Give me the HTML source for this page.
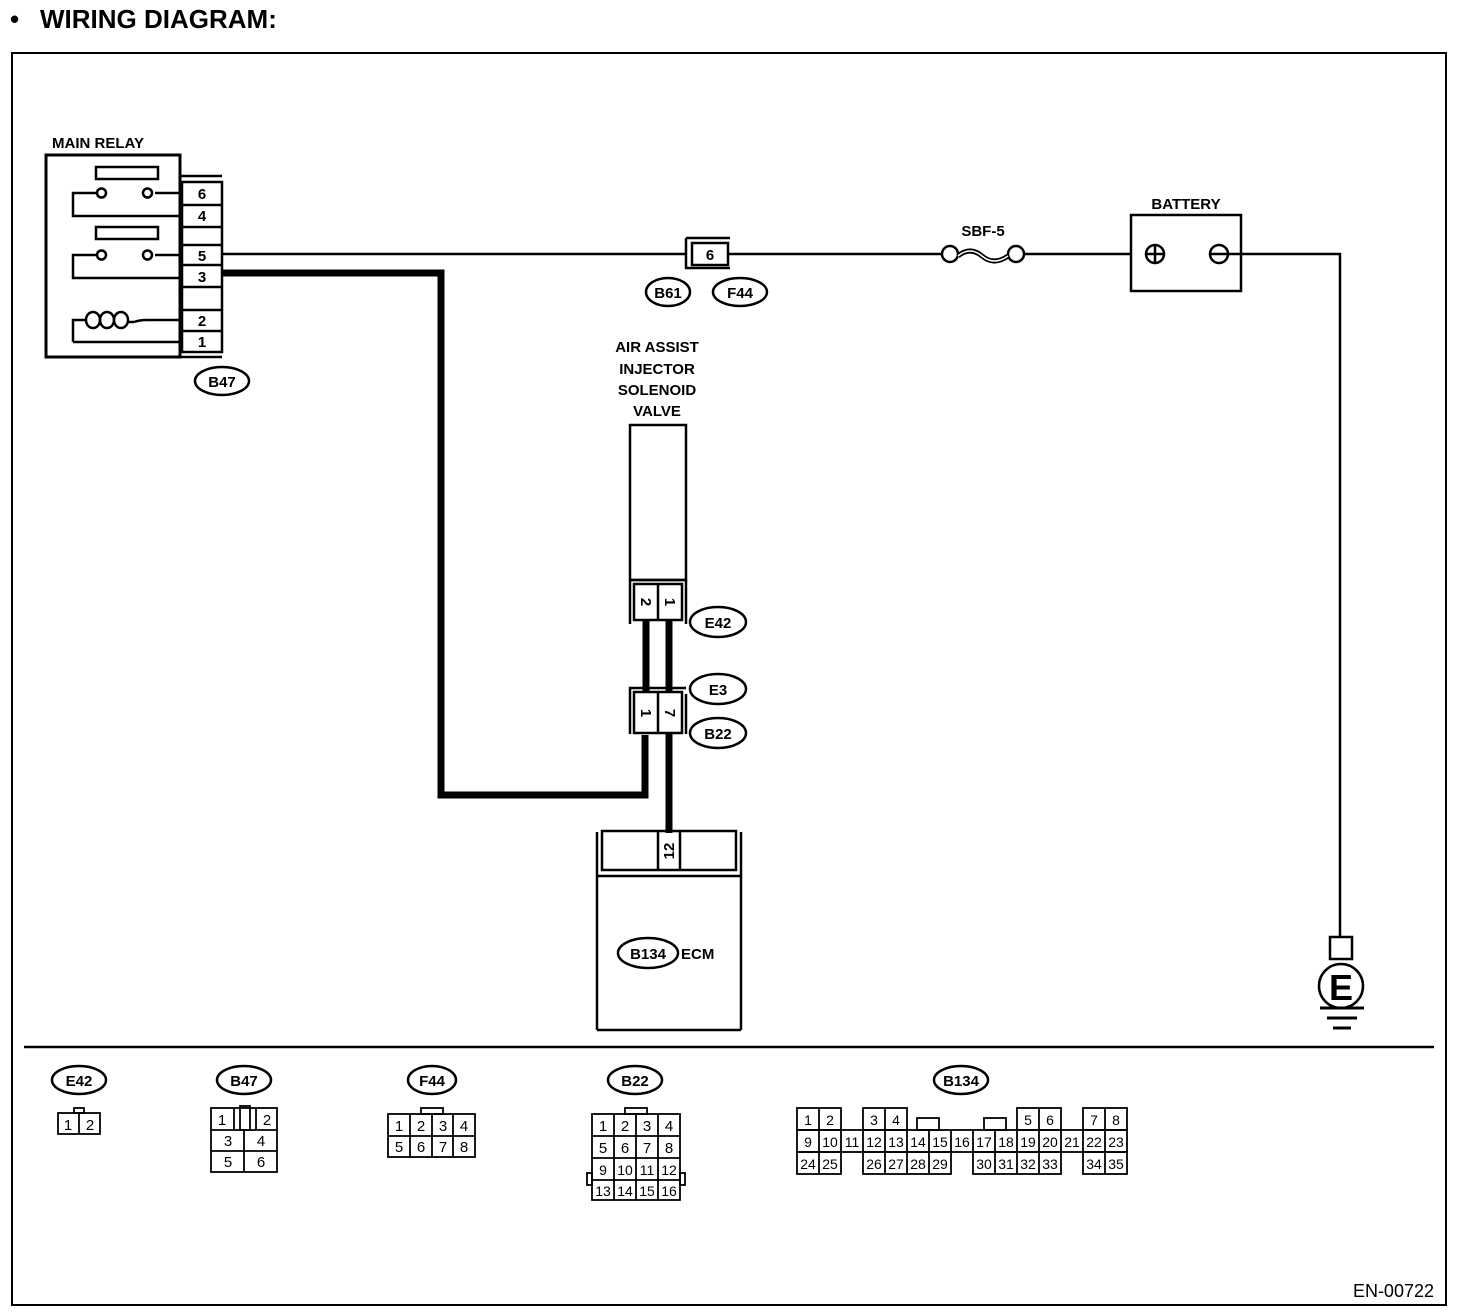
<!DOCTYPE html>
<html><head><meta charset="utf-8"><style>
html,body{margin:0;padding:0;background:#fff}
svg{display:block}
text{font-family:"Liberation Sans",Arial,sans-serif;fill:#000}
.b{font-weight:bold}
</style></head><body>
<svg width="1472" height="1312" viewBox="0 0 1472 1312" xmlns="http://www.w3.org/2000/svg">
<g fill="none" stroke="#000" stroke-width="2.5">
<text x="10" y="28" class="b" font-size="26" stroke="none">•</text>
<text x="40" y="28" class="b" font-size="26" stroke="none">WIRING DIAGRAM:</text>
<rect x="12" y="53" width="1434" height="1252" stroke-width="2"/>
<line x1="24" y1="1047" x2="1434" y2="1047"/>

<!-- Main relay -->
<rect x="46" y="155" width="134" height="202" stroke-width="3"/>
<line x1="180" y1="176" x2="222" y2="176"/>
<line x1="180" y1="357" x2="222" y2="357"/>
<rect x="182" y="182" width="40" height="170"/>
<line x1="182" y1="205" x2="222" y2="205"/><line x1="182" y1="227" x2="222" y2="227"/>
<line x1="182" y1="245" x2="222" y2="245"/><line x1="182" y1="265" x2="222" y2="265"/>
<line x1="182" y1="287" x2="222" y2="287"/><line x1="182" y1="310" x2="222" y2="310"/>
<line x1="182" y1="331" x2="222" y2="331"/>
<rect x="96" y="167" width="62" height="12"/>
<rect x="96" y="227" width="62" height="12"/>
<path d="M180 193 H155 M143 193 a4.5 4.5 0 1 0 9 0 a4.5 4.5 0 1 0 -9 0 M97 193 a4.5 4.5 0 1 0 9 0 a4.5 4.5 0 1 0 -9 0 M97 193 H73 V216 H180"/>
<path d="M180 255 H155 M143 255 a4.5 4.5 0 1 0 9 0 a4.5 4.5 0 1 0 -9 0 M97 255 a4.5 4.5 0 1 0 9 0 a4.5 4.5 0 1 0 -9 0 M97 255 H73 V278 H180"/>
<path d="M73 342 V320 H86 M73 342 H180 M134 322 Q140 320 146 320 H180"/>
<ellipse cx="93" cy="320" rx="7" ry="8"/>
<ellipse cx="107" cy="320" rx="7" ry="8"/>
<ellipse cx="121" cy="320" rx="7" ry="8"/>
<line x1="128" y1="322" x2="134" y2="322"/>
<g stroke="none" class="b" font-size="15" text-anchor="middle">
<text x="202" y="199">6</text><text x="202" y="221">4</text><text x="202" y="261">5</text>
<text x="202" y="282">3</text><text x="202" y="326">2</text><text x="202" y="347">1</text>
<text x="98" y="148">MAIN RELAY</text>
</g>
<ellipse cx="222" cy="381" rx="27" ry="14"/>
<text x="222" y="387" class="b" font-size="15" text-anchor="middle" stroke="none">B47</text>

<!-- wire 5 to battery -->
<line x1="222" y1="254" x2="686" y2="254"/>
<path d="M686 238 H730 M686 238 V268 H730"/>
<rect x="692" y="243" width="36" height="22"/>
<text x="710" y="260" class="b" font-size="15" text-anchor="middle" stroke="none">6</text>
<line x1="728" y1="254" x2="942" y2="254"/>
<circle cx="950" cy="254" r="8"/><circle cx="1016" cy="254" r="8"/>
<path d="M958 256 q12 -10 24 0 q12 10 26 0" stroke-width="5"/>
<path d="M958 256 q12 -10 24 0 q12 10 26 0" stroke="#fff" stroke-width="1.5"/>
<text x="983" y="236" class="b" font-size="15" text-anchor="middle" stroke="none">SBF-5</text>
<line x1="1024" y1="254" x2="1131" y2="254"/>
<rect x="1131" y="215" width="110" height="76"/>
<text x="1186" y="209" class="b" font-size="15" text-anchor="middle" stroke="none">BATTERY</text>
<circle cx="1155" cy="254" r="9"/><path d="M1146 254 H1164 M1155 245 V263"/>
<circle cx="1219" cy="254" r="9"/><path d="M1210 254 H1228"/>
<path d="M1228 254 H1340 V937"/>
<ellipse cx="668" cy="292" rx="22" ry="14"/><ellipse cx="740" cy="292" rx="27" ry="14"/>
<g stroke="none" class="b" font-size="15" text-anchor="middle"><text x="668" y="298">B61</text><text x="740" y="298">F44</text></g>

<!-- ground -->
<rect x="1330" y="937" width="22" height="22"/>
<circle cx="1341" cy="986" r="22"/>
<text x="1341" y="1000" class="b" font-size="36" text-anchor="middle" stroke="none">E</text>
<path d="M1320 1008 H1364 M1327 1018 H1357 M1333 1028 H1351" stroke-width="3"/>

<!-- thick wire 3 -->
<path d="M222 273 H441 V795 H645 V735" stroke-width="7"/>

<!-- valve -->
<g stroke="none" class="b" font-size="15" text-anchor="middle">
<text x="657" y="352">AIR ASSIST</text><text x="657" y="374">INJECTOR</text>
<text x="657" y="395">SOLENOID</text><text x="657" y="416">VALVE</text></g>
<rect x="630" y="425" width="56" height="155"/>
<path d="M630 580 V624 M686 580 V624 M630 580 H686"/>
<rect x="634" y="584" width="48" height="36"/><line x1="658" y1="584" x2="658" y2="620"/>
<g stroke="none" class="b" font-size="15" text-anchor="middle">
<text transform="translate(646 602) rotate(90)" y="5">2</text>
<text transform="translate(670 602) rotate(90)" y="5">1</text></g>
<path d="M646 620 V692 M669 620 V692" stroke-width="7"/>
<path d="M630 734 V688 H686 M686 734 V694"/>
<rect x="634" y="692" width="48" height="41" fill="#fff"/><line x1="658" y1="692" x2="658" y2="733"/>
<g stroke="none" class="b" font-size="15" text-anchor="middle">
<text transform="translate(646 713) rotate(90)" y="5">1</text>
<text transform="translate(670 713) rotate(90)" y="5">7</text></g>
<path d="M669 733 V833" stroke-width="7"/>
<ellipse cx="718" cy="622" rx="28" ry="15"/><ellipse cx="718" cy="689" rx="28" ry="15"/><ellipse cx="718" cy="733" rx="28" ry="15"/>
<g stroke="none" class="b" font-size="15" text-anchor="middle">
<text x="718" y="628">E42</text><text x="718" y="695">E3</text><text x="718" y="739">B22</text></g>

<!-- ECM -->
<path d="M597 1030 V832 M741 1030 V832 M597 1030 H741 M597 876 H741"/>
<rect x="602" y="831" width="134" height="39"/>
<line x1="658" y1="831" x2="658" y2="870"/><line x1="680" y1="831" x2="680" y2="870"/>
<text transform="translate(669 851) rotate(-90)" y="5" class="b" font-size="15" text-anchor="middle" stroke="none">12</text>
<ellipse cx="648" cy="953" rx="30" ry="15"/>
<g stroke="none" class="b" font-size="15"><text x="648" y="959" text-anchor="middle">B134</text><text x="681" y="959">ECM</text></g>

<!-- bottom connectors labels -->
<ellipse cx="79" cy="1080" rx="27" ry="14"/><ellipse cx="244" cy="1080" rx="27" ry="14"/>
<ellipse cx="432" cy="1080" rx="24" ry="14"/><ellipse cx="635" cy="1080" rx="27" ry="14"/>
<ellipse cx="961" cy="1080" rx="27" ry="14"/>
<g stroke="none" class="b" font-size="15" text-anchor="middle">
<text x="79" y="1086">E42</text><text x="244" y="1086">B47</text><text x="432" y="1086">F44</text>
<text x="635" y="1086">B22</text><text x="961" y="1086">B134</text></g>
</g>

<g fill="none" stroke="#000" stroke-width="1.8">
<rect x="74" y="1108" width="10" height="5"/>
<rect x="58" y="1113" width="42" height="21"/><line x1="79" y1="1113" x2="79" y2="1134"/>
<rect x="211" y="1108" width="66" height="64"/>
<line x1="211" y1="1130" x2="277" y2="1130"/><line x1="211" y1="1151" x2="277" y2="1151"/>
<line x1="244" y1="1130" x2="244" y2="1172"/>
<line x1="234" y1="1108" x2="234" y2="1130"/><line x1="256" y1="1108" x2="256" y2="1130"/>
<rect x="240" y="1106" width="10" height="24"/>
<rect x="421" y="1108" width="22" height="6"/>
<rect x="388" y="1114" width="87" height="43"/>
<line x1="388" y1="1136" x2="475" y2="1136"/>
<line x1="410" y1="1114" x2="410" y2="1157"/><line x1="432" y1="1114" x2="432" y2="1157"/><line x1="453" y1="1114" x2="453" y2="1157"/>
<rect x="625" y="1108" width="22" height="6"/>
<rect x="592" y="1114" width="88" height="86"/>
<rect x="587" y="1173" width="5" height="12"/><rect x="680" y="1173" width="5" height="12"/>
<line x1="592" y1="1136" x2="680" y2="1136"/><line x1="592" y1="1158" x2="680" y2="1158"/><line x1="592" y1="1180" x2="680" y2="1180"/>
<line x1="614" y1="1114" x2="614" y2="1200"/><line x1="636" y1="1114" x2="636" y2="1200"/><line x1="658" y1="1114" x2="658" y2="1200"/>
<rect x="797" y="1108" width="44" height="22"/><line x1="819" y1="1108" x2="819" y2="1130"/>
<rect x="863" y="1108" width="44" height="22"/><line x1="885" y1="1108" x2="885" y2="1130"/>
<rect x="1017" y="1108" width="44" height="22"/><line x1="1039" y1="1108" x2="1039" y2="1130"/>
<rect x="1083" y="1108" width="44" height="22"/><line x1="1105" y1="1108" x2="1105" y2="1130"/>
<rect x="917" y="1118" width="22" height="12"/><rect x="984" y="1118" width="22" height="12"/>
<rect x="797" y="1130" width="330" height="22"/>
<path d="M819 1130 V1152 M841 1130 V1152 M863 1130 V1152 M885 1130 V1152 M907 1130 V1152 M929 1130 V1152 M951 1130 V1152 M973 1130 V1152 M995 1130 V1152 M1017 1130 V1152 M1039 1130 V1152 M1061 1130 V1152 M1083 1130 V1152 M1105 1130 V1152"/>
<rect x="797" y="1152" width="44" height="22"/><line x1="819" y1="1152" x2="819" y2="1174"/>
<rect x="863" y="1152" width="88" height="22"/><path d="M885 1152 V1174 M907 1152 V1174 M929 1152 V1174"/>
<rect x="973" y="1152" width="88" height="22"/><path d="M995 1152 V1174 M1017 1152 V1174 M1039 1152 V1174"/>
<rect x="1083" y="1152" width="44" height="22"/><line x1="1105" y1="1152" x2="1105" y2="1174"/>
</g>
<g font-size="15" text-anchor="middle">
<text x="68" y="1130">1</text><text x="90" y="1130">2</text>
<text x="222" y="1125">1</text><text x="267" y="1125">2</text>
<text x="228" y="1146">3</text><text x="261" y="1146">4</text><text x="228" y="1167">5</text><text x="261" y="1167">6</text>
<text x="399" y="1131">1</text><text x="421" y="1131">2</text><text x="443" y="1131">3</text><text x="464" y="1131">4</text>
<text x="399" y="1152">5</text><text x="421" y="1152">6</text><text x="443" y="1152">7</text><text x="464" y="1152">8</text>
<text x="603" y="1131">1</text><text x="625" y="1131">2</text><text x="647" y="1131">3</text><text x="669" y="1131">4</text>
<text x="603" y="1153">5</text><text x="625" y="1153">6</text><text x="647" y="1153">7</text><text x="669" y="1153">8</text>
</g>
<g font-size="14" text-anchor="middle">
<text x="603" y="1175">9</text><text x="625" y="1175">10</text><text x="647" y="1175">11</text><text x="669" y="1175">12</text>
<text x="603" y="1196">13</text><text x="625" y="1196">14</text><text x="647" y="1196">15</text><text x="669" y="1196">16</text>
<text x="808" y="1125">1</text><text x="830" y="1125">2</text><text x="874" y="1125">3</text><text x="896" y="1125">4</text>
<text x="1028" y="1125">5</text><text x="1050" y="1125">6</text><text x="1094" y="1125">7</text><text x="1116" y="1125">8</text>
<text x="808" y="1147">9</text><text x="830" y="1147">10</text><text x="852" y="1147">11</text><text x="874" y="1147">12</text>
<text x="896" y="1147">13</text><text x="918" y="1147">14</text><text x="940" y="1147">15</text><text x="962" y="1147">16</text>
<text x="984" y="1147">17</text><text x="1006" y="1147">18</text><text x="1028" y="1147">19</text><text x="1050" y="1147">20</text>
<text x="1072" y="1147">21</text><text x="1094" y="1147">22</text><text x="1116" y="1147">23</text>
<text x="808" y="1169">24</text><text x="830" y="1169">25</text><text x="874" y="1169">26</text><text x="896" y="1169">27</text>
<text x="918" y="1169">28</text><text x="940" y="1169">29</text><text x="984" y="1169">30</text><text x="1006" y="1169">31</text>
<text x="1028" y="1169">32</text><text x="1050" y="1169">33</text><text x="1094" y="1169">34</text><text x="1116" y="1169">35</text>
</g>
<text x="1434" y="1297" font-size="18" text-anchor="end">EN-00722</text>
</svg>
</body></html>
